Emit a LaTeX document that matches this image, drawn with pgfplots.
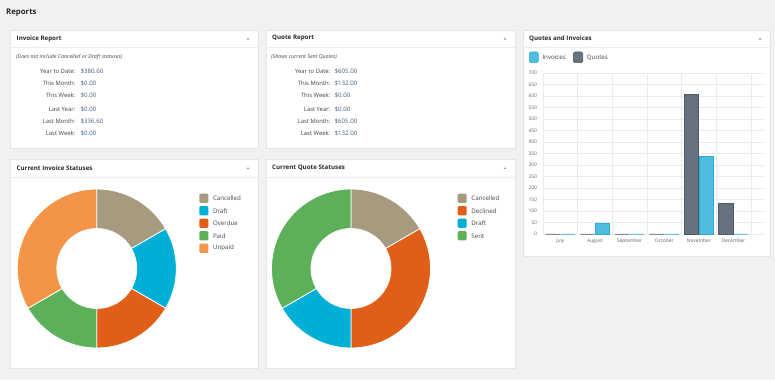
\documentclass[border=0pt]{standalone}
\usepackage{fontspec}
\setmainfont{Open Sans}
\usepackage{pgfplots}
\usepackage{pgfplotstable}
\pgfplotsset{compat=1.18}

\definecolor{bg}{HTML}{F1F1F1}
\definecolor{panelb}{HTML}{E5E5E5}
\definecolor{sepc}{HTML}{EEEEEE}
\definecolor{titlec}{HTML}{23282D}
\definecolor{labc}{HTML}{444444}
\definecolor{valc}{HTML}{3E5F7E}
\definecolor{caretc}{HTML}{A0A5AA}
\definecolor{gridc}{HTML}{EBEBEB}
\definecolor{tickc}{HTML}{666666}
\definecolor{cCancel}{HTML}{A69B7E}
\definecolor{cDraft}{HTML}{00AFD5}
\definecolor{cOver}{HTML}{E05E17}
\definecolor{cPaid}{HTML}{5CB05A}
\definecolor{cUnpaid}{HTML}{F39446}
\definecolor{quotefill}{HTML}{67727F}
\definecolor{quoteline}{HTML}{4E5966}
\definecolor{invfill}{HTML}{4EBDE0}
\definecolor{invline}{HTML}{2FAAD5}

\pgfplotstableread{
month quotes invoices
0 0 0
1 0 44
2 0 0
3 0 0
4 605 336.6
5 132 0
}\bardata

\pgfplotstableread{
label value col
Cancelled 1 cCancel
Draft 1 cDraft
Overdue 1 cOver
Paid 1 cPaid
Unpaid 2 cUnpaid
}\invstat

\pgfplotstableread{
label value col
Cancelled 1 cCancel
Declined 2 cOver
Draft 1 cDraft
Sent 2 cPaid
}\quotestat

\newcommand\donutsectors[1]{%
  \pgfplotstablegetrowsof{#1}\pgfmathtruncatemacro\lastrow{\pgfplotsretval-1}%
  \def\tot{0}%
  \pgfplotsforeachungrouped \i in {0,...,\lastrow}{%
    \pgfplotstablegetelem{\i}{value}\of#1%
    \pgfmathsetmacro\tot{\tot+\pgfplotsretval}}%
  \def\acc{0}%
  \pgfplotsforeachungrouped \i in {0,...,\lastrow}{%
    \pgfplotstablegetelem{\i}{value}\of#1\let\myval\pgfplotsretval
    \pgfplotstablegetelem{\i}{col}\of#1\let\mycol\pgfplotsretval
    \pgfmathsetmacro\sa{90-360*\acc/\tot}%
    \pgfmathsetmacro\acc{\acc+\myval}%
    \pgfmathsetmacro\ea{90-360*\acc/\tot}%
    \pgfmathsetmacro\xa{cos(\sa)}\pgfmathsetmacro\ya{sin(\sa)}%
    \pgfmathsetmacro\xc{0.503*cos(\ea)}\pgfmathsetmacro\yc{0.503*sin(\ea)}%
    \edef\temp{\noexpand\fill[\mycol,draw=white,line width=0.8pt] (axis cs:\xa,\ya) arc[start angle=\sa,end angle=\ea,radius=79.5pt] -- (axis cs:\xc,\yc) arc[start angle=\ea,end angle=\sa,radius=40pt] -- cycle;}%
    \temp
  }%
}

\tikzset{
 ttl/.style={font=\fontsize{6.2}{7}\bfseries\selectfont, text=titlec, anchor=west, inner sep=0},
 lab/.style={font=\fontsize{5.9}{7}\selectfont, text=labc, anchor=east, inner sep=0},
 val/.style={font=\fontsize{6.1}{7}\selectfont, text=valc, anchor=west, inner sep=0},
 note/.style={font=\fontsize{5.3}{7}\itshape\selectfont, text=labc, anchor=west, inner sep=0},
 leg/.style={font=\fontsize{6.2}{7}\selectfont, text=labc, anchor=west, inner sep=0},
}

\newcommand\panel[5]{%
  \fill[white, draw=panelb, line width=0.6] (#1,380-#2) rectangle (#3,380-#4);
  \draw[sepc, line width=0.6] (#1,380-#2-17.5) -- (#3,380-#2-17.5);
  \node[ttl] at (#1+6,380-#2-8.5) {#5};
  \fill[caretc] (#3-11.5,380-#2-9.6) -- (#3-8.5,380-#2-9.6) -- (#3-10,380-#2-7.6) -- cycle;
}

\begin{document}
\begin{tikzpicture}[x=1pt,y=1pt]
\fill[bg] (0,0) rectangle (775,380);
\node[font=\fontsize{7.8}{8}\bfseries\selectfont, text=titlec, anchor=west, inner sep=0] at (6,380-12.5) {Reports};

\panel{10.5}{30}{258}{148}{Invoice Report}
\panel{266}{30}{515}{148}{Quote Report}
\panel{523}{30}{770}{256}{Quotes and Invoices}
\panel{10.5}{159.5}{258}{368}{Current Invoice Statuses}
\panel{266}{159.5}{515}{368}{Current Quote Statuses}

% Invoice report
\node[note] at (16,380-57) {(Does not include Cancelled or Draft statuses)};
\foreach \y/\l/\v in {71/Year to Date:/\$380.60, 83/This Month:/\$0.00, 95/This Week:/\$0.00, 109/Last Year:/\$0.00, 121/Last Month:/\$336.60, 133/Last Week:/\$0.00}{
  \node[lab] at (75.5,380-\y) {\l};
  \node[val] at (80.5,380-\y) {\v};
}
% Quote report
\node[note] at (271,380-57) {(Shows current Sent Quotes)};
\foreach \y/\l/\v in {71/Year to Date:/\$605.00, 83/This Month:/\$132.00, 95/This Week:/\$0.00, 109/Last Year:/\$0.00, 121/Last Month:/\$605.00, 133/Last Week:/\$132.00}{
  \node[lab] at (330.5,380-\y) {\l};
  \node[val] at (334.5,380-\y) {\v};
}

% Bar chart legend
\fill[invfill, draw=invline, line width=0.6, rounded corners=1.5] (529.3,380-52) rectangle (538.3,380-62.7);
\node[leg] at (542.3,380-57.5) {Invoices};
\fill[quotefill, draw=quoteline, line width=0.6, rounded corners=1.5] (573.3,380-52) rectangle (582.7,380-62.7);
\node[leg] at (586.7,380-57.5) {Quotes};

\begin{axis}[at={(543pt,146pt)}, anchor=south west, scale only axis,
  width=222pt, height=161pt,
  xmin=-0.5, xmax=5.91, ymin=0, ymax=700,
  ytick distance=50,
  xtick={0,...,5}, xticklabels={July,August,September,October,November,December},
  minor xtick={-0.5,0.5,...,5.5},
  xminorgrids, ymajorgrids,
  grid style={draw=gridc, line width=0.5pt},
  minor grid style={draw=gridc, line width=0.5pt},
  axis line style={draw=none},
  major tick length=0pt, minor tick length=0pt,
  tick label style={font=\fontsize{4.9}{5}\selectfont, text=tickc},
  yticklabel style={xshift=-2.5pt},
  xticklabel style={yshift=-1.5pt},
  ybar, bar width=14.3pt, clip=false,
  /pgf/number format/assume math mode=true]
\addplot[fill=quotefill, draw=quoteline, line width=0.9pt, bar shift=-7.4pt] table[x=month,y=quotes]{\bardata};
\addplot[fill=invfill, draw=invline, line width=0.9pt, bar shift=7.4pt] table[x=month,y=invoices]{\bardata};
\end{axis}

% Invoice donut
\begin{axis}[at={(96.8pt,111.5pt)}, anchor=center, scale only axis,
  width=159pt, height=159pt, xmin=-1, xmax=1, ymin=-1, ymax=1, hide axis, clip=false]
\donutsectors{\invstat}
\end{axis}
\begin{axis}[at={(351pt,111.5pt)}, anchor=center, scale only axis,
  width=159pt, height=159pt, xmin=-1, xmax=1, ymin=-1, ymax=1, hide axis, clip=false]
\donutsectors{\quotestat}
\end{axis}

% donut legends
\foreach \y/\c/\l in {198.3/cCancel/Cancelled, 210.8/cDraft/Draft, 223.3/cOver/Overdue, 235.8/cPaid/Paid, 248.3/cUnpaid/Unpaid}{
  \fill[\c, rounded corners=1.2] (199.3,380-\y-4.6) rectangle (208.3,380-\y+4.6);
  \node[leg] at (212.8,380-\y) {\l};
}
\foreach \y/\c/\l in {198.3/cCancel/Cancelled, 210.8/cOver/Declined, 223.3/cDraft/Draft, 235.8/cPaid/Sent}{
  \fill[\c, rounded corners=1.2] (457.7,380-\y-4.6) rectangle (466.7,380-\y+4.6);
  \node[leg] at (471.2,380-\y) {\l};
}
\end{tikzpicture}
\end{document}
